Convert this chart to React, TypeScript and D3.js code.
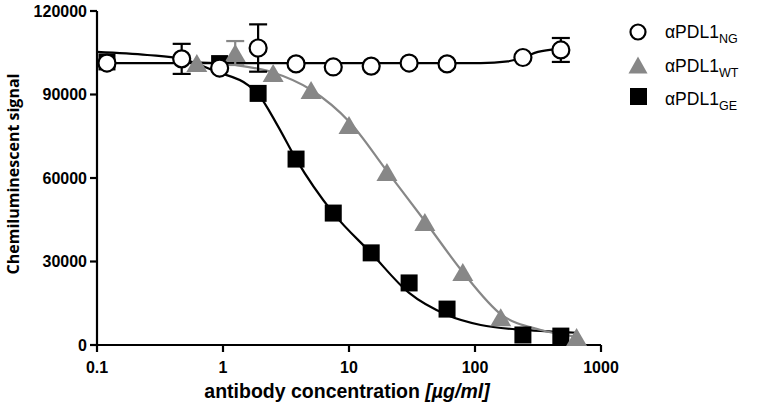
import React from "react";
import * as d3 from "d3";

// ---- data ----
const ngConc = [0.12, 0.47, 0.94, 1.9, 3.8, 7.5, 15, 30, 60, 240, 480];
const ngVal = [101300, 102800, 99500, 106700, 101000, 99900, 100200, 101300, 101000, 103300, 106000];
const ngErr = [0, 5400, 0, 8500, 0, 0, 0, 0, 0, 0, 4300];

const wtConc = [0.62, 1.25, 2.5, 5, 10, 20, 40, 80, 160, 640];
const wtVal = [101300, 104900, 97700, 91600, 79000, 62200, 44200, 26200, 10000, 2900];
const wtErr = [0, 4300, 0, 0, 0, 0, 0, 0, 0, 0];

const geConc = [0.12, 0.94, 1.9, 3.8, 7.5, 15, 30, 60, 240, 480];
const geVal = [101700, 101100, 90400, 66800, 47400, 33100, 22300, 12900, 3600, 3200];

// fitted curves
const ngFitConc = [0.1, 1, 10, 111, 182, 244, 316, 455, 500];
const ngFitVal = [101300, 101300, 101300, 101300, 101900, 103400, 105300, 106300, 106400];

const wtFitConc = [0.62, 1.25, 2.42, 5.03, 10.1, 20.2, 40.5, 80, 163, 333, 656];
const wtFitVal = [101700, 100600, 98100, 91600, 80100, 62200, 44200, 26200, 10800, 5400, 2900];

const geFitConc = [0.1, 0.25, 0.47, 0.9, 1.58, 1.91, 2.7, 3.8, 7.5, 15, 30, 60, 111, 244, 481, 640];
const geFitVal = [105300, 104200, 102800, 98100, 93400, 90000, 79000, 66800, 47400, 33000, 18700, 10800, 7200, 5400, 4700, 4400];

const xTicks = [0.1, 1, 10, 100, 1000];
const xTickLabels = ["0.1", "1", "10", "100", "1000"];
const yTicks = [0, 30000, 60000, 90000, 120000];

const legendNames = ["NG", "WT", "GE"];

const W = 758;
const H = 407;
const left = 97;
const right = 601;
const top = 11;
const bottom = 345;

const GRAY = "#878787";

export default function App() {
  const x = d3.scaleLog().domain([0.1, 1000]).range([left, right]);
  const y = d3.scaleLinear().domain([0, 120000]).range([bottom, top]);

  const mkLine = (cs: number[], vs: number[]) =>
    d3
      .line<number>()
      .x((_, i) => x(cs[i]))
      .y((v) => y(v))
      .curve(d3.curveMonotoneX)(vs) as string;

  const sq = 17;
  const tri = (cx: number, cy: number, w = 21, h = 18) =>
    `M${cx - w / 2},${cy + h / 2}L${cx + w / 2},${cy + h / 2}L${cx},${cy - h / 2}Z`;

  const errBar = (
    cx: number,
    v: number,
    e: number,
    color: string,
    key: string
  ) => {
    if (!e) return null;
    const y1 = y(v + e);
    const y2 = y(v - e);
    const cw = 9;
    return (
      <g key={key} stroke={color} strokeWidth={2.2}>
        <line x1={cx} x2={cx} y1={y1} y2={y2} />
        <line x1={cx - cw} x2={cx + cw} y1={y1} y2={y1} />
        <line x1={cx - cw} x2={cx + cw} y1={y2} y2={y2} />
      </g>
    );
  };

  return (
    <svg
      width={W}
      height={H}
      style={{ position: "absolute", left: 0, top: 0, background: "#fff" }}
      fontFamily="'Liberation Sans', Arial, sans-serif"
    >
      {/* axes */}
      <g stroke="#000" strokeWidth={2.2} fill="none">
        <line x1={left} x2={left} y1={top} y2={bottom + 1} />
        <line x1={left - 1} x2={right} y1={bottom} y2={bottom} />
        {yTicks.map((t) => (
          <line key={"yt" + t} x1={left - 7} x2={left} y1={y(t)} y2={y(t)} />
        ))}
        {xTicks.map((t) => (
          <line key={"xt" + t} x1={x(t)} x2={x(t)} y1={bottom} y2={bottom + 7} />
        ))}
      </g>
      <g fontSize={16} fontWeight="bold" fill="#000">
        {yTicks.map((t) => (
          <text key={"yl" + t} x={left - 10} y={y(t) + 5.5} textAnchor="end">
            {String(t)}
          </text>
        ))}
        {xTicks.map((t, i) => (
          <text key={"xl" + t} x={x(t)} y={373} textAnchor="middle">
            {xTickLabels[i]}
          </text>
        ))}
      </g>
      <text
        x={(left + right) / 2 - 2}
        y={398}
        textAnchor="middle"
        fontSize={19.5}
        fontWeight="bold"
      >
        antibody concentration <tspan fontStyle="italic">[µg/ml]</tspan>
      </text>
      <text
        transform={`translate(19,174) rotate(-90)`}
        textAnchor="middle"
        fontSize={16}
        fontWeight="bold"
        fontFamily="'Open Sans', sans-serif"
      >
        Chemiluminescent signal
      </text>

      {/* fitted curves */}
      <path d={mkLine(geFitConc, geFitVal)} fill="none" stroke="#000" strokeWidth={2.2} />
      <path d={mkLine(wtFitConc, wtFitVal)} fill="none" stroke={GRAY} strokeWidth={2.2} />
      <path d={mkLine(ngFitConc, ngFitVal)} fill="none" stroke="#000" strokeWidth={2.2} />

      {/* GE squares */}
      {geConc.map((c, i) => (
        <rect
          key={"ge" + i}
          x={x(c) - sq / 2}
          y={y(geVal[i]) - sq / 2}
          width={sq}
          height={sq}
          fill="#000"
        />
      ))}

      {/* WT triangles */}
      {wtConc.map((c, i) => errBar(x(c), wtVal[i], wtErr[i], GRAY, "wte" + i))}
      {wtConc.map((c, i) => (
        <path key={"wt" + i} d={tri(x(c), y(wtVal[i]))} fill={GRAY} />
      ))}

      {/* NG circles */}
      {ngConc.map((c, i) => errBar(x(c), ngVal[i], ngErr[i], "#000", "nge" + i))}
      {ngConc.map((c, i) => (
        <circle
          key={"ng" + i}
          cx={x(c)}
          cy={y(ngVal[i])}
          r={8.5}
          fill="#fff"
          stroke="#000"
          strokeWidth={2.2}
        />
      ))}

      {/* legend */}
      <g>
        <circle cx={638} cy={32} r={7.5} fill="#fff" stroke="#000" strokeWidth={2.2} />
        <path d={tri(638, 65, 19, 17)} fill={GRAY} />
        <rect x={630} y={88} width={17} height={17} fill="#000" />
        {legendNames.map((n, i) => (
          <text key={"lg" + n} x={665} y={38 + i * 33.5} fontSize={17.5} fill="#000">
            αPDL1
            <tspan fontSize={12.5} dy={5}>
              {n}
            </tspan>
          </text>
        ))}
      </g>
    </svg>
  );
}
